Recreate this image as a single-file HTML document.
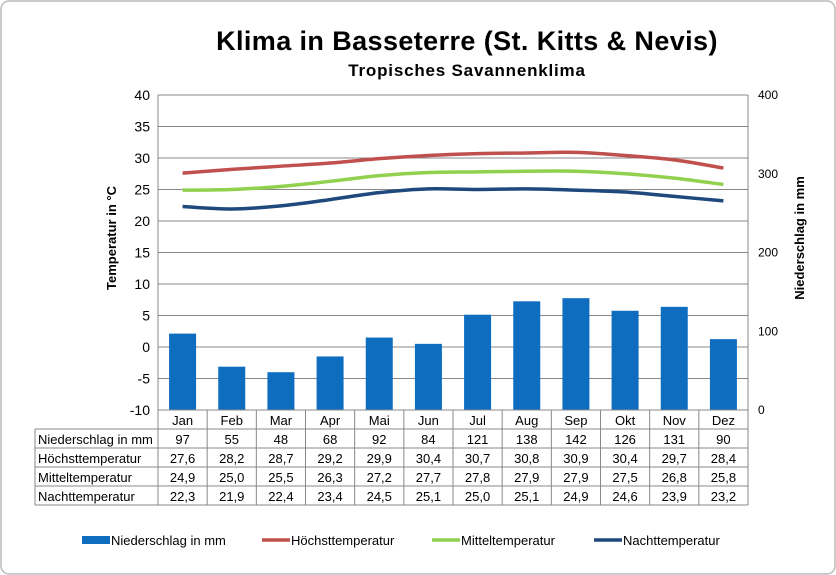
<!DOCTYPE html>
<html><head><meta charset="utf-8"><style>
body{margin:0;background:#fff;}
svg{display:block;font-family:"Liberation Sans",Arial,sans-serif;}
</style></head><body>
<svg id="s" width="836" height="575" xmlns="http://www.w3.org/2000/svg">
<rect x="1" y="1" width="834" height="573" rx="8" fill="#fff" stroke="#bbb" stroke-width="1.5"/>
<text x="467" y="50" font-size="27" font-weight="bold" text-anchor="middle" letter-spacing="0.4">Klima in Basseterre (St. Kitts &amp; Nevis)</text>
<text x="467" y="76" font-size="17" font-weight="bold" text-anchor="middle" letter-spacing="0.8">Tropisches Savannenklima</text>
<g id="g"></g>
</svg>
<script>
const g=document.getElementById('g');let h='';
const L=158,R=748,T=95,B=410,cw=(R-L)/12;
const yT=t=>T+(40-t)*6.3, yP=p=>B-p*0.7875;
for(let v=40;v>=-10;v-=5){const y=yT(v);h+=`<line x1="${L}" x2="${R}" y1="${y}" y2="${y}" stroke="#888" stroke-width="1"/>`;
h+=`<text x="150" y="${y+5}" font-size="14" text-anchor="end">${v}</text>`;}
for(let v=0;v<=400;v+=100){h+=`<text x="758" y="${yP(v)+4}" font-size="12">${v}</text>`;}
h+=`<line x1="${L}" x2="${L}" y1="${T}" y2="${B}" stroke="#888"/><line x1="${R}" x2="${R}" y1="${T}" y2="${B}" stroke="#888"/>`;
const m=['Jan','Feb','Mar','Apr','Mai','Jun','Jul','Aug','Sep','Okt','Nov','Dez'];
const P=[97,55,48,68,92,84,121,138,142,126,131,90];
const H=[27.6,28.2,28.7,29.2,29.9,30.4,30.7,30.8,30.9,30.4,29.7,28.4];
const M=[24.9,25.0,25.5,26.3,27.2,27.7,27.8,27.9,27.9,27.5,26.8,25.8];
const N=[22.3,21.9,22.4,23.4,24.5,25.1,25.0,25.1,24.9,24.6,23.9,23.2];
P.forEach((p,i)=>{const x=L+cw*i+cw/2-13.5;h+=`<rect x="${x}" y="${yP(p)}" width="27" height="${B-yP(p)}" fill="#0f6dc0"/>`;});
function path(a,c){const pts=a.map((t,i)=>[L+cw*i+cw/2,yT(t)]);let d=`M${pts[0]}`;
for(let i=0;i<pts.length-1;i++){const p0=pts[i-1]||pts[i],p1=pts[i],p2=pts[i+1],p3=pts[i+2]||p2;
d+=` C${p1[0]+(p2[0]-p0[0])/6},${p1[1]+(p2[1]-p0[1])/6} ${p2[0]-(p3[0]-p1[0])/6},${p2[1]-(p3[1]-p1[1])/6} ${p2[0]},${p2[1]}`;}
return `<path d="${d}" fill="none" stroke="${c}" stroke-width="3.5"/>`;}
h+=path(H,'#c0504d')+path(M,'#92d050')+path(N,'#1f497d');
const rows=[410,429,448,467,486,505];
h+=`<g stroke="#888" stroke-width="1">`;
rows.forEach((y,k)=>{h+=`<line x1="${k==0?L:35}" x2="${R}" y1="${y}" y2="${y}"/>`;});
h+=`<line x1="35" x2="35" y1="429" y2="505"/>`;
for(let i=0;i<=12;i++){const x=L+cw*i;h+=`<line x1="${x}" x2="${x}" y1="410" y2="505"/>`;}
h+=`</g>`;
const lab=['Niederschlag in mm','Höchsttemperatur','Mitteltemperatur','Nachttemperatur'];
const fmt=v=>v.toFixed(1).replace('.',',');
const data=[P.map(String),H.map(fmt),M.map(fmt),N.map(fmt)];
m.forEach((s,i)=>{h+=`<text x="${L+cw*i+cw/2}" y="425" font-size="13" text-anchor="middle">${s}</text>`;});
data.forEach((r,k)=>{const y=rows[k+1]+15;h+=`<text x="38" y="${y}" font-size="13">${lab[k]}</text>`;
r.forEach((v,i)=>{h+=`<text x="${L+cw*i+cw/2}" y="${y}" font-size="13" text-anchor="middle">${v}</text>`;});});
h+=`<text transform="translate(116,238) rotate(-90)" font-size="13" font-weight="bold" text-anchor="middle">Temperatur in °C</text>`;
h+=`<text transform="translate(804,238) rotate(-90)" font-size="13" font-weight="bold" text-anchor="middle">Niederschlag in mm</text>`;
const lg=[[82,'#0f6dc0','Niederschlag in mm',8],[262,'#c0504d','Höchsttemperatur',3.5],[432,'#92d050','Mitteltemperatur',3.5],[594,'#1f497d','Nachttemperatur',3.5]];
lg.forEach(([x,c,t,w])=>{h+=`<rect x="${x}" y="${540-w/2}" width="28" height="${w}" fill="${c}"/><text x="${x+29}" y="545" font-size="13">${t}</text>`;});
g.innerHTML=h;
</script>
</body></html>
